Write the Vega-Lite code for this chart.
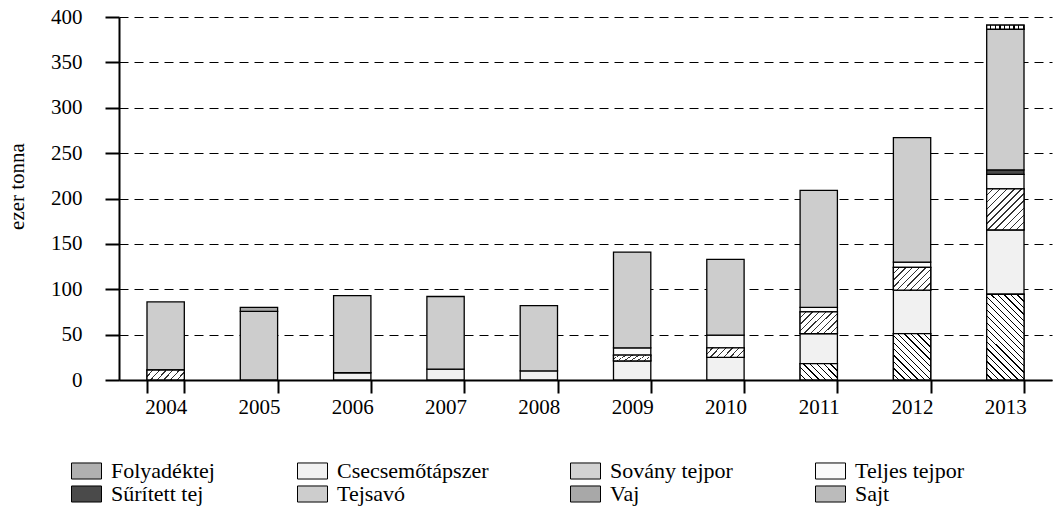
{
  "$schema": "https://vega.github.io/schema/vega-lite/v6.json",
  "width": 933,
  "height": 363,
  "autosize": "none",
  "padding": {"left": 119, "top": 17, "right": 3, "bottom": 133},
  "background": "white",
  "config": {
    "font": "Liberation Serif",
    "view": {"stroke": null}
  },
  "data": {
    "values": [
      {"year": "2004", "product": "Sovány tejpor", "o": 3, "value": 11},
      {"year": "2004", "product": "Tejsavó", "o": 6, "value": 75},
      {"year": "2005", "product": "Tejsavó", "o": 6, "value": 75.6},
      {"year": "2005", "product": "Vaj", "o": 7, "value": 4.4},
      {"year": "2006", "product": "Csecsemőtápszer", "o": 2, "value": 8},
      {"year": "2006", "product": "Tejsavó", "o": 6, "value": 85},
      {"year": "2007", "product": "Csecsemőtápszer", "o": 2, "value": 12},
      {"year": "2007", "product": "Tejsavó", "o": 6, "value": 80},
      {"year": "2008", "product": "Csecsemőtápszer", "o": 2, "value": 10},
      {"year": "2008", "product": "Tejsavó", "o": 6, "value": 72},
      {"year": "2009", "product": "Csecsemőtápszer", "o": 2, "value": 21},
      {"year": "2009", "product": "Sovány tejpor", "o": 3, "value": 6.5},
      {"year": "2009", "product": "Teljes tejpor", "o": 4, "value": 8},
      {"year": "2009", "product": "Tejsavó", "o": 6, "value": 105.5},
      {"year": "2010", "product": "Csecsemőtápszer", "o": 2, "value": 25},
      {"year": "2010", "product": "Sovány tejpor", "o": 3, "value": 10.5},
      {"year": "2010", "product": "Teljes tejpor", "o": 4, "value": 14},
      {"year": "2010", "product": "Tejsavó", "o": 6, "value": 83.5},
      {"year": "2011", "product": "Folyadéktej", "o": 1, "value": 18},
      {"year": "2011", "product": "Csecsemőtápszer", "o": 2, "value": 33},
      {"year": "2011", "product": "Sovány tejpor", "o": 3, "value": 24},
      {"year": "2011", "product": "Teljes tejpor", "o": 4, "value": 5},
      {"year": "2011", "product": "Tejsavó", "o": 6, "value": 129},
      {"year": "2012", "product": "Folyadéktej", "o": 1, "value": 51},
      {"year": "2012", "product": "Csecsemőtápszer", "o": 2, "value": 48},
      {"year": "2012", "product": "Sovány tejpor", "o": 3, "value": 25},
      {"year": "2012", "product": "Teljes tejpor", "o": 4, "value": 6},
      {"year": "2012", "product": "Tejsavó", "o": 6, "value": 137},
      {"year": "2013", "product": "Folyadéktej", "o": 1, "value": 94.5},
      {"year": "2013", "product": "Csecsemőtápszer", "o": 2, "value": 71},
      {"year": "2013", "product": "Sovány tejpor", "o": 3, "value": 45},
      {"year": "2013", "product": "Teljes tejpor", "o": 4, "value": 16},
      {"year": "2013", "product": "Sűrített tej", "o": 5, "value": 5},
      {"year": "2013", "product": "Tejsavó", "o": 6, "value": 155},
      {"year": "2013", "product": "Sajt", "o": 8, "value": 4.5}
    ]
  },
  "transform": [
    {"stack": "value", "groupby": ["year"], "sort": [{"field": "o", "order": "ascending"}], "as": ["v0", "v1"]}
  ],
  "encoding": {
    "x": {
      "field": "year",
      "type": "ordinal",
      "scale": {"paddingInner": 0.6, "paddingOuter": 0.3},
      "axis": {
        "title": null,
        "labelAngle": 0,
        "labelFontSize": 21,
        "labelColor": "black",
        "labelPadding": 3,
        "tickBand": "extent",
        "tickSize": 13,
        "tickWidth": 2,
        "tickColor": "black",
        "domainColor": "black",
        "domainWidth": 2
      }
    },
    "y": {
      "field": "v1",
      "type": "quantitative",
      "scale": {"domain": [0, 400]},
      "axis": {
        "title": "ezer tonna",
        "titleFontSize": 21,
        "titleFontWeight": "normal",
        "titleColor": "black",
        "titleX": -102,
        "titleY": 169,
        "titleBaseline": "middle",
        "values": [0, 50, 100, 150, 200, 250, 300, 350, 400],
        "labelFontSize": 21,
        "labelColor": "black",
        "labelPadding": 23,
        "tickSize": 14,
        "tickWidth": 2,
        "tickColor": "black",
        "domainColor": "black",
        "domainWidth": 2,
        "grid": true,
        "gridColor": "black",
        "gridDash": [9, 6],
        "gridWidth": 1
      }
    },
    "y2": {"field": "v0"}
  },
  "layer": [
    {
      "mark": {"type": "bar", "stroke": "black", "strokeWidth": 1.3},
      "encoding": {
        "color": {
          "field": "product",
          "type": "nominal",
          "scale": {
            "domain": ["Folyadéktej", "Csecsemőtápszer", "Sovány tejpor", "Teljes tejpor", "Sűrített tej", "Tejsavó", "Vaj", "Sajt"],
            "range": ["#b0b0b0", "#f1f1f1", "#d2d2d2", "#fafafa", "#4a4a4a", "#cdcdcd", "#a8a8a8", "#bbbbbb"]
          },
          "legend": {
            "title": null,
            "orient": "none",
            "direction": "horizontal",
            "legendX": -43.5,
            "legendY": 443,
            "columns": 4,
            "columnPadding": 80,
            "rowPadding": 1,
            "symbolType": "M-2,-1.07H2V1.07H-2Z",
            "symbolSize": 225,
            "symbolStrokeColor": "black",
            "symbolStrokeWidth": 1,
            "symbolOpacity": 1,
            "labelFontSize": 22,
            "labelColor": "black",
            "labelOffset": 13.5
          }
        }
      }
    },
    {
      "transform": [{"filter": "datum.product === 'Folyadéktej' && datum.year === '2011'"}],
      "mark": {"type": "bar", "stroke": "black", "strokeWidth": 1.3,
        "fill": {"gradient": "linear", "x1": 0, "y1": 1, "x2": 1.207, "y2": 0.473, "stops": [
          {"offset": 0, "color": "white"}, {"offset": 0.1, "color": "white"}, {"offset": 0.1, "color": "black"}, {"offset": 0.125, "color": "black"},
          {"offset": 0.125, "color": "white"}, {"offset": 0.225, "color": "white"}, {"offset": 0.225, "color": "black"}, {"offset": 0.25, "color": "black"},
          {"offset": 0.25, "color": "white"}, {"offset": 0.35, "color": "white"}, {"offset": 0.35, "color": "black"}, {"offset": 0.375, "color": "black"},
          {"offset": 0.375, "color": "white"}, {"offset": 0.475, "color": "white"}, {"offset": 0.475, "color": "black"}, {"offset": 0.5, "color": "black"},
          {"offset": 0.5, "color": "white"}, {"offset": 0.6, "color": "white"}, {"offset": 0.6, "color": "black"}, {"offset": 0.625, "color": "black"},
          {"offset": 0.625, "color": "white"}, {"offset": 0.725, "color": "white"}, {"offset": 0.725, "color": "black"}, {"offset": 0.75, "color": "black"},
          {"offset": 0.75, "color": "white"}, {"offset": 0.85, "color": "white"}, {"offset": 0.85, "color": "black"}, {"offset": 0.875, "color": "black"},
          {"offset": 0.875, "color": "white"}, {"offset": 0.975, "color": "white"}, {"offset": 0.975, "color": "black"}, {"offset": 1, "color": "black"}
        ]}
      }
    },
    {
      "transform": [{"filter": "datum.product === 'Folyadéktej' && datum.year === '2012'"}],
      "mark": {"type": "bar", "stroke": "black", "strokeWidth": 1.3,
        "fill": {"gradient": "linear", "x1": 0, "y1": 1, "x2": 0.882, "y2": -0.095, "stops": [
          {"offset": 0, "color": "white"}, {"offset": 0.0615, "color": "white"}, {"offset": 0.0615, "color": "black"}, {"offset": 0.0769, "color": "black"},
          {"offset": 0.0769, "color": "white"}, {"offset": 0.1385, "color": "white"}, {"offset": 0.1385, "color": "black"}, {"offset": 0.1538, "color": "black"},
          {"offset": 0.1538, "color": "white"}, {"offset": 0.2154, "color": "white"}, {"offset": 0.2154, "color": "black"}, {"offset": 0.2308, "color": "black"},
          {"offset": 0.2308, "color": "white"}, {"offset": 0.2923, "color": "white"}, {"offset": 0.2923, "color": "black"}, {"offset": 0.3077, "color": "black"},
          {"offset": 0.3077, "color": "white"}, {"offset": 0.3692, "color": "white"}, {"offset": 0.3692, "color": "black"}, {"offset": 0.3846, "color": "black"},
          {"offset": 0.3846, "color": "white"}, {"offset": 0.4462, "color": "white"}, {"offset": 0.4462, "color": "black"}, {"offset": 0.4615, "color": "black"},
          {"offset": 0.4615, "color": "white"}, {"offset": 0.5231, "color": "white"}, {"offset": 0.5231, "color": "black"}, {"offset": 0.5385, "color": "black"},
          {"offset": 0.5385, "color": "white"}, {"offset": 0.6, "color": "white"}, {"offset": 0.6, "color": "black"}, {"offset": 0.6154, "color": "black"},
          {"offset": 0.6154, "color": "white"}, {"offset": 0.6769, "color": "white"}, {"offset": 0.6769, "color": "black"}, {"offset": 0.6923, "color": "black"},
          {"offset": 0.6923, "color": "white"}, {"offset": 0.7538, "color": "white"}, {"offset": 0.7538, "color": "black"}, {"offset": 0.7692, "color": "black"},
          {"offset": 0.7692, "color": "white"}, {"offset": 0.8308, "color": "white"}, {"offset": 0.8308, "color": "black"}, {"offset": 0.8462, "color": "black"},
          {"offset": 0.8462, "color": "white"}, {"offset": 0.9077, "color": "white"}, {"offset": 0.9077, "color": "black"}, {"offset": 0.9231, "color": "black"},
          {"offset": 0.9231, "color": "white"}, {"offset": 0.9846, "color": "white"}, {"offset": 0.9846, "color": "black"}, {"offset": 1, "color": "black"}
        ]}
      }
    },
    {
      "transform": [{"filter": "datum.product === 'Folyadéktej' && datum.year === '2013'"}],
      "mark": {"type": "bar", "stroke": "black", "strokeWidth": 1.3,
        "fill": {"gradient": "linear", "x1": 0, "y1": 1, "x2": 0.524, "y2": -0.206, "stops": [
          {"offset": 0, "color": "white"}, {"offset": 0.0421, "color": "white"}, {"offset": 0.0421, "color": "black"}, {"offset": 0.0526, "color": "black"},
          {"offset": 0.0526, "color": "white"}, {"offset": 0.0947, "color": "white"}, {"offset": 0.0947, "color": "black"}, {"offset": 0.1053, "color": "black"},
          {"offset": 0.1053, "color": "white"}, {"offset": 0.1474, "color": "white"}, {"offset": 0.1474, "color": "black"}, {"offset": 0.1579, "color": "black"},
          {"offset": 0.1579, "color": "white"}, {"offset": 0.2, "color": "white"}, {"offset": 0.2, "color": "black"}, {"offset": 0.2105, "color": "black"},
          {"offset": 0.2105, "color": "white"}, {"offset": 0.2526, "color": "white"}, {"offset": 0.2526, "color": "black"}, {"offset": 0.2632, "color": "black"},
          {"offset": 0.2632, "color": "white"}, {"offset": 0.3053, "color": "white"}, {"offset": 0.3053, "color": "black"}, {"offset": 0.3158, "color": "black"},
          {"offset": 0.3158, "color": "white"}, {"offset": 0.3579, "color": "white"}, {"offset": 0.3579, "color": "black"}, {"offset": 0.3684, "color": "black"},
          {"offset": 0.3684, "color": "white"}, {"offset": 0.4105, "color": "white"}, {"offset": 0.4105, "color": "black"}, {"offset": 0.4211, "color": "black"},
          {"offset": 0.4211, "color": "white"}, {"offset": 0.4632, "color": "white"}, {"offset": 0.4632, "color": "black"}, {"offset": 0.4737, "color": "black"},
          {"offset": 0.4737, "color": "white"}, {"offset": 0.5158, "color": "white"}, {"offset": 0.5158, "color": "black"}, {"offset": 0.5263, "color": "black"},
          {"offset": 0.5263, "color": "white"}, {"offset": 0.5684, "color": "white"}, {"offset": 0.5684, "color": "black"}, {"offset": 0.5789, "color": "black"},
          {"offset": 0.5789, "color": "white"}, {"offset": 0.6211, "color": "white"}, {"offset": 0.6211, "color": "black"}, {"offset": 0.6316, "color": "black"},
          {"offset": 0.6316, "color": "white"}, {"offset": 0.6737, "color": "white"}, {"offset": 0.6737, "color": "black"}, {"offset": 0.6842, "color": "black"},
          {"offset": 0.6842, "color": "white"}, {"offset": 0.7263, "color": "white"}, {"offset": 0.7263, "color": "black"}, {"offset": 0.7368, "color": "black"},
          {"offset": 0.7368, "color": "white"}, {"offset": 0.7789, "color": "white"}, {"offset": 0.7789, "color": "black"}, {"offset": 0.7895, "color": "black"},
          {"offset": 0.7895, "color": "white"}, {"offset": 0.8316, "color": "white"}, {"offset": 0.8316, "color": "black"}, {"offset": 0.8421, "color": "black"},
          {"offset": 0.8421, "color": "white"}, {"offset": 0.8842, "color": "white"}, {"offset": 0.8842, "color": "black"}, {"offset": 0.8947, "color": "black"},
          {"offset": 0.8947, "color": "white"}, {"offset": 0.9368, "color": "white"}, {"offset": 0.9368, "color": "black"}, {"offset": 0.9474, "color": "black"},
          {"offset": 0.9474, "color": "white"}, {"offset": 0.9895, "color": "white"}, {"offset": 0.9895, "color": "black"}, {"offset": 1, "color": "black"}
        ]}
      }
    },
    {
      "transform": [{"filter": "datum.product === 'Sovány tejpor' && (datum.year === '2004' || datum.year === '2009' || datum.year === '2010')"}],
      "mark": {"type": "bar", "stroke": "black", "strokeWidth": 1.3,
        "fill": {"gradient": "linear", "x1": 0, "y1": 0, "x2": 1.173, "y2": 0.283, "stops": [
          {"offset": 0, "color": "white"}, {"offset": 0.1143, "color": "white"}, {"offset": 0.1143, "color": "#333"}, {"offset": 0.1429, "color": "#333"},
          {"offset": 0.1429, "color": "white"}, {"offset": 0.2571, "color": "white"}, {"offset": 0.2571, "color": "#333"}, {"offset": 0.2857, "color": "#333"},
          {"offset": 0.2857, "color": "white"}, {"offset": 0.4, "color": "white"}, {"offset": 0.4, "color": "#333"}, {"offset": 0.4286, "color": "#333"},
          {"offset": 0.4286, "color": "white"}, {"offset": 0.5429, "color": "white"}, {"offset": 0.5429, "color": "#333"}, {"offset": 0.5714, "color": "#333"},
          {"offset": 0.5714, "color": "white"}, {"offset": 0.6857, "color": "white"}, {"offset": 0.6857, "color": "#333"}, {"offset": 0.7143, "color": "#333"},
          {"offset": 0.7143, "color": "white"}, {"offset": 0.8286, "color": "white"}, {"offset": 0.8286, "color": "#333"}, {"offset": 0.8571, "color": "#333"},
          {"offset": 0.8571, "color": "white"}, {"offset": 0.9714, "color": "white"}, {"offset": 0.9714, "color": "#333"}, {"offset": 1, "color": "#333"}
        ]}
      }
    },
    {
      "transform": [{"filter": "datum.product === 'Sovány tejpor' && (datum.year === '2011' || datum.year === '2012')"}],
      "mark": {"type": "bar", "stroke": "black", "strokeWidth": 1.3,
        "fill": {"gradient": "linear", "x1": 0, "y1": 0, "x2": 1.178, "y2": 0.704, "stops": [
          {"offset": 0, "color": "white"}, {"offset": 0.0889, "color": "white"}, {"offset": 0.0889, "color": "#333"}, {"offset": 0.1111, "color": "#333"},
          {"offset": 0.1111, "color": "white"}, {"offset": 0.2, "color": "white"}, {"offset": 0.2, "color": "#333"}, {"offset": 0.2222, "color": "#333"},
          {"offset": 0.2222, "color": "white"}, {"offset": 0.3111, "color": "white"}, {"offset": 0.3111, "color": "#333"}, {"offset": 0.3333, "color": "#333"},
          {"offset": 0.3333, "color": "white"}, {"offset": 0.4222, "color": "white"}, {"offset": 0.4222, "color": "#333"}, {"offset": 0.4444, "color": "#333"},
          {"offset": 0.4444, "color": "white"}, {"offset": 0.5333, "color": "white"}, {"offset": 0.5333, "color": "#333"}, {"offset": 0.5556, "color": "#333"},
          {"offset": 0.5556, "color": "white"}, {"offset": 0.6444, "color": "white"}, {"offset": 0.6444, "color": "#333"}, {"offset": 0.6667, "color": "#333"},
          {"offset": 0.6667, "color": "white"}, {"offset": 0.7556, "color": "white"}, {"offset": 0.7556, "color": "#333"}, {"offset": 0.7778, "color": "#333"},
          {"offset": 0.7778, "color": "white"}, {"offset": 0.8667, "color": "white"}, {"offset": 0.8667, "color": "#333"}, {"offset": 0.8889, "color": "#333"},
          {"offset": 0.8889, "color": "white"}, {"offset": 0.9778, "color": "white"}, {"offset": 0.9778, "color": "#333"}, {"offset": 1, "color": "#333"}
        ]}
      }
    },
    {
      "transform": [{"filter": "datum.product === 'Sovány tejpor' && datum.year === '2013'"}],
      "mark": {"type": "bar", "stroke": "black", "strokeWidth": 1.3,
        "fill": {"gradient": "linear", "x1": 0, "y1": 0, "x2": 0.953, "y2": 1.043, "stops": [
          {"offset": 0, "color": "white"}, {"offset": 0.0727, "color": "white"}, {"offset": 0.0727, "color": "#333"}, {"offset": 0.0909, "color": "#333"},
          {"offset": 0.0909, "color": "white"}, {"offset": 0.1636, "color": "white"}, {"offset": 0.1636, "color": "#333"}, {"offset": 0.1818, "color": "#333"},
          {"offset": 0.1818, "color": "white"}, {"offset": 0.2545, "color": "white"}, {"offset": 0.2545, "color": "#333"}, {"offset": 0.2727, "color": "#333"},
          {"offset": 0.2727, "color": "white"}, {"offset": 0.3455, "color": "white"}, {"offset": 0.3455, "color": "#333"}, {"offset": 0.3636, "color": "#333"},
          {"offset": 0.3636, "color": "white"}, {"offset": 0.4364, "color": "white"}, {"offset": 0.4364, "color": "#333"}, {"offset": 0.4545, "color": "#333"},
          {"offset": 0.4545, "color": "white"}, {"offset": 0.5273, "color": "white"}, {"offset": 0.5273, "color": "#333"}, {"offset": 0.5455, "color": "#333"},
          {"offset": 0.5455, "color": "white"}, {"offset": 0.6182, "color": "white"}, {"offset": 0.6182, "color": "#333"}, {"offset": 0.6364, "color": "#333"},
          {"offset": 0.6364, "color": "white"}, {"offset": 0.7091, "color": "white"}, {"offset": 0.7091, "color": "#333"}, {"offset": 0.7273, "color": "#333"},
          {"offset": 0.7273, "color": "white"}, {"offset": 0.8, "color": "white"}, {"offset": 0.8, "color": "#333"}, {"offset": 0.8182, "color": "#333"},
          {"offset": 0.8182, "color": "white"}, {"offset": 0.8909, "color": "white"}, {"offset": 0.8909, "color": "#333"}, {"offset": 0.9091, "color": "#333"},
          {"offset": 0.9091, "color": "white"}, {"offset": 0.9818, "color": "white"}, {"offset": 0.9818, "color": "#333"}, {"offset": 1, "color": "#333"}
        ]}
      }
    },
    {
      "transform": [{"filter": "datum.product === 'Sajt'"}],
      "mark": {"type": "bar", "stroke": "black", "strokeWidth": 1.3,
        "fill": {"gradient": "linear", "x1": 0, "y1": 0, "x2": 1, "y2": 0, "stops": [
          {"offset": 0, "color": "white"}, {"offset": 0.09, "color": "white"}, {"offset": 0.09, "color": "black"}, {"offset": 0.125, "color": "black"},
          {"offset": 0.125, "color": "white"}, {"offset": 0.215, "color": "white"}, {"offset": 0.215, "color": "black"}, {"offset": 0.25, "color": "black"},
          {"offset": 0.25, "color": "white"}, {"offset": 0.34, "color": "white"}, {"offset": 0.34, "color": "black"}, {"offset": 0.375, "color": "black"},
          {"offset": 0.375, "color": "white"}, {"offset": 0.465, "color": "white"}, {"offset": 0.465, "color": "black"}, {"offset": 0.5, "color": "black"},
          {"offset": 0.5, "color": "white"}, {"offset": 0.59, "color": "white"}, {"offset": 0.59, "color": "black"}, {"offset": 0.625, "color": "black"},
          {"offset": 0.625, "color": "white"}, {"offset": 0.715, "color": "white"}, {"offset": 0.715, "color": "black"}, {"offset": 0.75, "color": "black"},
          {"offset": 0.75, "color": "white"}, {"offset": 0.84, "color": "white"}, {"offset": 0.84, "color": "black"}, {"offset": 0.875, "color": "black"},
          {"offset": 0.875, "color": "white"}, {"offset": 0.965, "color": "white"}, {"offset": 0.965, "color": "black"}, {"offset": 1, "color": "black"}
        ]}
      }
    }
  ]
}
